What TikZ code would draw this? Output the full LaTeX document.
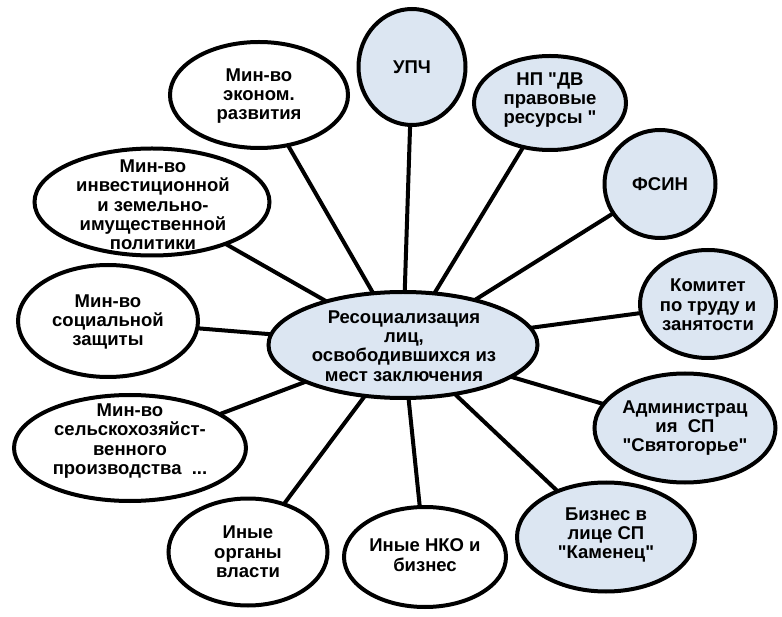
\documentclass[tikz,border=0pt]{standalone}
\usepackage{fontspec}
\newfontfamily\arialf{Liberation Sans}
\usetikzlibrary{shapes.geometric,backgrounds}
\definecolor{blueF}{RGB}{220,230,242}
\begin{document}
\begin{tikzpicture}[x=1pt,y=-1pt,
  ell/.style={ellipse, draw=black, line width=4pt, inner sep=0pt, fill=white},
  bell/.style={ell, fill=blueF},
  txt/.style={align=center, inner sep=0pt, font=\arialf\fontsize{18.5}{19.3}\selectfont\bfseries},
  link/.style={draw=black, line width=4pt}]
\useasboundingbox (0,0) rectangle (782,617);
% center
\node[bell, minimum width=269, minimum height=106] (c) at (403,345) {};
\node[txt] (ct) at (404,346) {Ресоциализация\\лиц,\\освободившихся из\\мест заключения};
% nodes
\node[ell, minimum width=178, minimum height=106] (econ) at (259,95) {};
\node[txt] (econt) at (259,96) {Мин-во\\эконом.\\развития};
\node[bell, minimum width=107, minimum height=116] (upc) at (412,67) {};
\node[txt] (upct) at (upc) {УПЧ};
\node[bell, minimum width=152, minimum height=94] (np) at (550,103) {};
\node[txt] (npt) at (550,100) {НП "ДВ\\правовые\\ресурсы "};
\node[bell, minimum width=111, minimum height=108] (fsin) at (660,184) {};
\node[txt] (fsint) at (fsin) {ФСИН};
\node[bell, minimum width=136, minimum height=108] (kom) at (708,304) {};
\node[txt] (komt) at (708,305) {Комитет\\по труду и\\занятости};
\node[bell, minimum width=181, minimum height=109] (adm) at (685,428) {};
\node[txt] (admt) at (685,428) {Администрац\\ия\ \ СП\\"Святогорье"};
\node[bell, minimum width=178, minimum height=109] (biz) at (606,537) {};
\node[txt] (bizt) at (606,535) {Бизнес в\\лице СП\\"Каменец"};
\node[ell, minimum width=162, minimum height=100] (nko) at (425,557) {};
\node[txt] (nkot) at (425,555) {Иные НКО и\\бизнес};
\node[ell, minimum width=159, minimum height=107] (org) at (248,552) {};
\node[txt] (orgt) at (248,552) {Иные\\органы\\власти};
\node[ell, minimum width=232, minimum height=106] (sel) at (130,448) {};
\node[txt] (selt) at (130,441) {Мин-во\\сельскохозяйст-\\венного\\производства\ \ ...};
\node[ell, minimum width=180, minimum height=112] (soc) at (108,321) {};
\node[txt] (soct) at (108,322) {Мин-во\\социальной\\защиты};
\node[ell, minimum width=235, minimum height=107] (inv) at (152,202) {};
\node[txt] (invt) at (153,205) {Мин-во\\инвестиционной\\и земельно-\\имущественной\\политики};
\begin{scope}[on background layer]
\foreach \n in {econ,upc,np,fsin,kom,adm,biz,nko,org,sel,soc,inv}
  \draw[link] (c.center) -- (\n.center);
\end{scope}
\end{tikzpicture}
\end{document}
